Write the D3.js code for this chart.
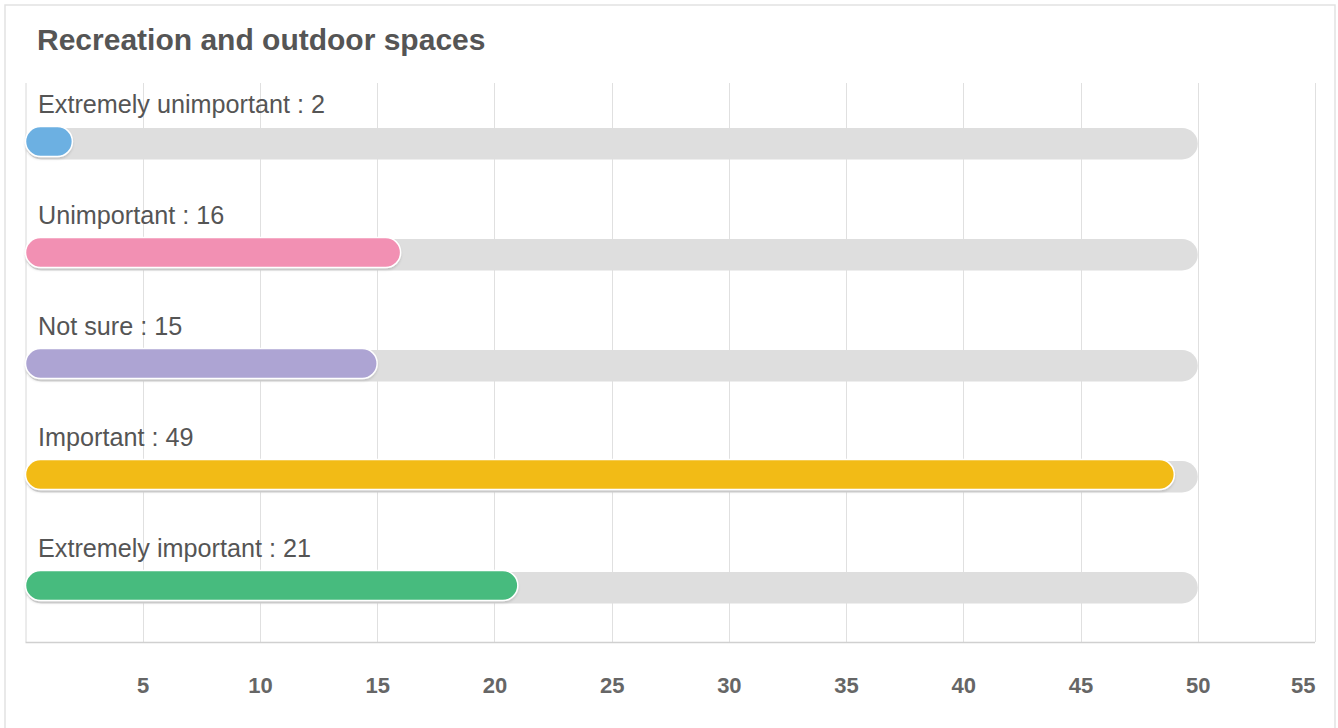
<!DOCTYPE html>
<html><head><meta charset="utf-8">
<script src="https://cdn.jsdelivr.net/npm/d3@7"></script>
<style>
body{margin:0;background:#fff;}
svg{display:block;font-family:"Liberation Sans",Arial,Helvetica,sans-serif;}
</style></head>
<body><svg id="chart" width="1338" height="728"></svg>
<script>
const title = "Recreation and outdoor spaces";
const categories = ["Extremely unimportant","Unimportant","Not sure","Important","Extremely important"];
const values = [2,16,15,49,21];
const maxValues = [50,50,50,50,50];
const colors = ["#6cb0e2","#f290b3","#ada4d3","#f2bb19","#47bb7e"];
const tickValues = [5,10,15,20,25,30,35,40,45,50,55];

(function(){
const svg = d3.select("#chart");
const defs = svg.append("defs");
const f = defs.append("filter").attr("id","sh").attr("x","-5%").attr("y","-30%").attr("width","110%").attr("height","170%");
f.append("feDropShadow").attr("dx",0).attr("dy",2).attr("stdDeviation",1).attr("flood-color","#000").attr("flood-opacity",0.12);

// panel
svg.append("rect").attr("x",5).attr("y",5).attr("width",1330).attr("height",740)
  .attr("fill","#fff").attr("stroke","#e2e2e2").attr("stroke-width",1.5);
svg.append("text").attr("x",37).attr("y",50).attr("fill","#555").attr("font-weight","bold")
  .attr("font-size",30).text(title);

const pL=25.5,pR=1315,pT=83,pB=642;
const x = d3.scaleLinear().domain([0,55]).range([pL,pR]);
const y = d3.scaleBand().domain(categories).range([85,640]);

// grid
svg.append("g").selectAll("line").data(tickValues).join("line")
  .attr("x1",d=>Math.round(x(d))+0.5).attr("x2",d=>Math.round(x(d))+0.5)
  .attr("y1",pT).attr("y2",pB).attr("stroke","#e0e0e0").attr("stroke-width",1);
// axis lines
svg.append("line").attr("x1",pL+0.5).attr("x2",pL+0.5).attr("y1",pT).attr("y2",pB).attr("stroke","#d8d8d8");
svg.append("line").attr("x1",pL).attr("x2",pR).attr("y1",pB+0.5).attr("y2",pB+0.5).attr("stroke","#d0d0d0").attr("stroke-width",1.5);

// x axis labels
const axis = d3.axisBottom(x).tickValues(tickValues).tickSize(0).tickPadding(0);
const ag = svg.append("g").attr("transform",`translate(0,${pB})`).call(axis);
ag.select(".domain").remove();
ag.selectAll("text").attr("fill","#666").attr("font-size",22).attr("font-weight","bold")
  .attr("font-family","Liberation Sans, Arial, sans-serif")
  .attr("y",50.5).attr("dy",0)
  .attr("text-anchor",(d,i)=>i===tickValues.length-1?"end":"middle")
  .attr("dx",(d,i)=>i===tickValues.length-1?(pR-x(d))+"px":"0");

const bh=31.5, fh=30;
const g = svg.append("g");
categories.forEach((c,i)=>{
  const cy = y(c)+y.bandwidth()/2;
  g.append("rect").attr("x",x(0)).attr("y",cy+3.2-bh/2).attr("width",x(maxValues[i])-x(0)).attr("height",bh)
    .attr("rx",bh/2).attr("fill","#dedede");
  g.append("rect").attr("x",x(0)).attr("y",cy+1-fh/2).attr("width",Math.max(x(values[i])-x(0),fh)).attr("height",fh)
    .attr("rx",fh/2).attr("fill",colors[i]).attr("stroke","#fff").attr("stroke-width",1.5).attr("filter","url(#sh)");
  g.append("text").attr("x",38).attr("y",cy-27.5).attr("fill","#555").attr("font-size",25.2)
    .text(`${c} : ${values[i]}`);
});
})();
</script></body></html>
